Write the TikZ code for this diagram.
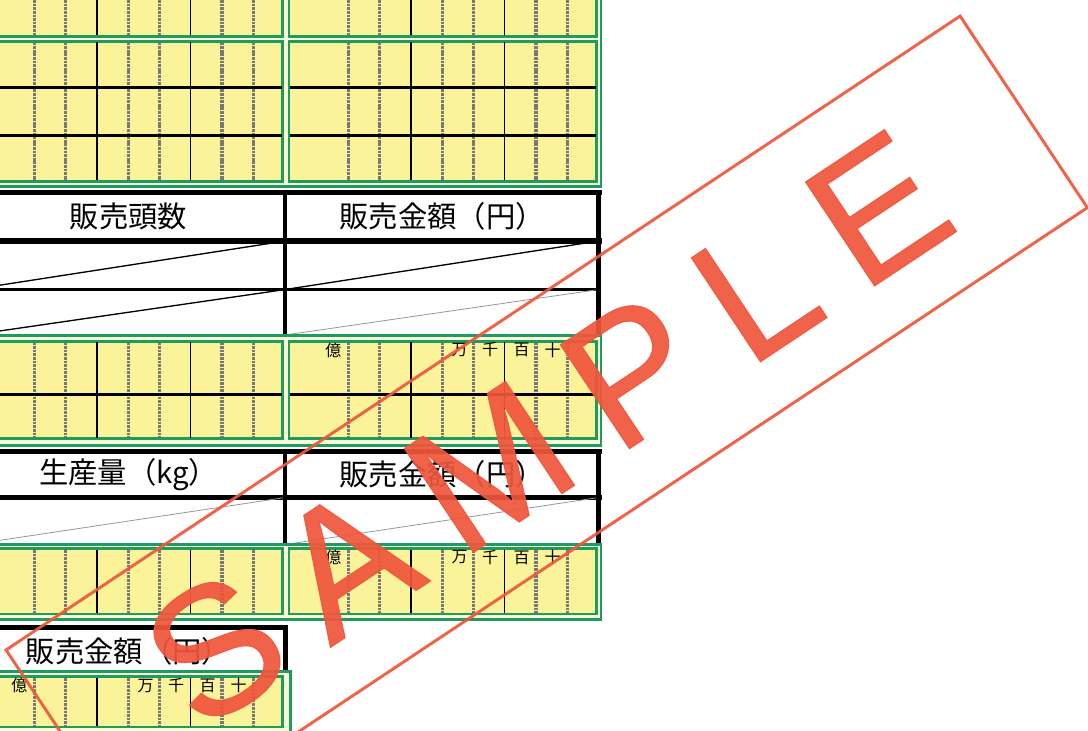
\documentclass[tikz,border=0pt]{standalone}
\usepackage{fontspec}
\setmainfont{Liberation Sans}
\newfontfamily\jpfont{Noto Sans CJK JP}
\newfontfamily\stampfont[LetterSpace=20,FakeBold=0.6]{Liberation Sans}
\definecolor{formgreen}{RGB}{30,156,96}
\definecolor{formyellow}{RGB}{250,243,153}
\definecolor{formcream}{RGB}{252,249,214}
\definecolor{colgray}{RGB}{120,120,120}
\definecolor{diaggrey}{RGB}{150,150,150}
\definecolor{stampred}{RGB}{239,86,60}

\begin{document}
\begin{tikzpicture}[x=0.75pt,y=0.75pt,yscale=-1,xscale=1,
  greenbox/.style={draw=formgreen, line width=2pt},
  outerbox/.style={greenbox, fill=formcream},
  innerbox/.style={greenbox, fill=formyellow},
  dashcol/.style={draw=colgray, line width=2.5pt, dash pattern=on 2pt off 0.7pt},
  solidcol/.style={draw=black, line width=1pt},
  blockrow/.style={draw=black, line width=2.2pt},
  tabthick/.style={draw=black, line width=3.9pt},
  tabrule/.style={draw=black, line width=1.8pt},
  tabdiv/.style={draw=black, line width=3pt},
  diagblack/.style={draw=black, line width=1pt},
  diaggray/.style={draw=diaggrey, line width=0.6pt},
  headtext/.style={font=\jpfont\fontsize{22}{24}\selectfont, inner sep=0pt},
  digit/.style={font=\jpfont\fontsize{12}{13}\selectfont, inner sep=0pt},
  stampframe/.style={draw=stampred, draw opacity=0.93, line width=2.2pt},
  stamptext/.style={text=stampred, text opacity=0.93, font=\stampfont\fontsize{136}{140}\selectfont, inner sep=0pt}
]
\useasboundingbox (0,0) rectangle (1088,731);
\clip (0,0) rectangle (1088,731);

%Table: 販売頭数 / 販売金額
\draw[tabthick] (-30,192.7) -- (601.5,192.7);
\draw[tabthick] (-30,241) -- (601.5,241);
\draw[tabrule] (-30,289.5) -- (596,289.5);
\draw[diagblack] (-28,289.5) -- (285.3,241);
\draw[diagblack] (285.3,289.5) -- (598.8,241);
\draw[diagblack] (-28,335) -- (285.3,289.5);
\draw[diaggray] (285.3,335) -- (598.8,289.5);
\draw[tabdiv] (285.3,190.5) -- (285.3,335);
\draw[tabthick] (598.8,190.5) -- (598.8,335);
\node[headtext] (headHead) at (128.6,216.5) {販売頭数};
\node[headtext] (headYenA) at (442,216.5) {販売金額（円）};

%Table: 生産量 / 販売金額
\draw[tabthick] (-30,451.5) -- (601.5,451.5);
\draw[tabthick] (-30,497.5) -- (601.5,497.5);
\draw[diaggray] (-28,544.5) -- (285.3,497.5);
\draw[diaggray] (285.3,544.5) -- (598.8,497.5);
\draw[tabdiv] (285.3,449.5) -- (285.3,544.5);
\draw[tabthick] (598.8,449.5) -- (598.8,544.5);
\node[headtext] (headQty) at (128.6,474.5) {生産量（kg）};
\node[headtext] (headYenB) at (442,474.5) {販売金額（円）};

%Table: 販売金額 (left only)
\draw[tabthick] (-30,627.7) -- (288,627.7);
\draw[tabthick] (285.8,625.5) -- (285.8,671.3);
\node[headtext] (headYenC) at (128.6,651) {販売金額（円）};

%Shape: Rectangle (outer green frames)
\draw[outerbox] (-30,-30) rectangle (601,186.2);
\draw[outerbox] (-30,335.2) rectangle (601,445.5);
\draw[outerbox] (-30,544.5) rectangle (601,619.7);
\draw[outerbox] (-30,671.3) rectangle (290.7,745);

%Shape: Rectangle (yellow digit blocks)
\foreach \xl/\yt/\yb in {-25/-30/36.3, 289/-30/36.3, -25/41.3/181.3, 289/41.3/181.3,
    -25/341.2/438.8, 289/341.2/438.8, -25/548.7/614, 289/548.7/614, -25/676.7/727}{
  \draw[innerbox] (\xl,\yt) rectangle ({\xl+307.5},\yb);
  \foreach \k in {0,1,3,4,6,7}
    \draw[dashcol] ({\xl+59.3+31.3*\k},{\yt+1.4}) -- ({\xl+59.3+31.3*\k},{\yb-1.4});
  \foreach \k in {2,5}
    \draw[solidcol] ({\xl+59.3+31.3*\k},{\yt+1}) -- ({\xl+59.3+31.3*\k},{\yb-1});
}

%Straight Lines (rows inside blocks)
\foreach \xl in {-25,289}{
  \foreach \yr in {87.3,135.3,394.2}
    \draw[blockrow] ({\xl+1},\yr) -- ({\xl+306.5},\yr);
}

%Digit headings
\foreach \unit/\dx [count=\i] in {億/44.3,万/170.5,千/201,百/232.5,十/263.5}{
  \node[digit] (unitC\i) at ({289+\dx},350) {\unit};
  \node[digit] (unitD\i) at ({289+\dx},557.5) {\unit};
  \node[digit] (unitE\i) at ({-25+\dx},685.8) {\unit};
}

%Stamp
\node[stampframe, rotate=33.6, minimum width=859.1pt, minimum height=172.5pt] (stampbox) at (546.7,428.8) {};
\node[stamptext, rotate=33.6] (stampword) at (stampbox.center) {SAMPLE};

\end{tikzpicture}
\end{document}
